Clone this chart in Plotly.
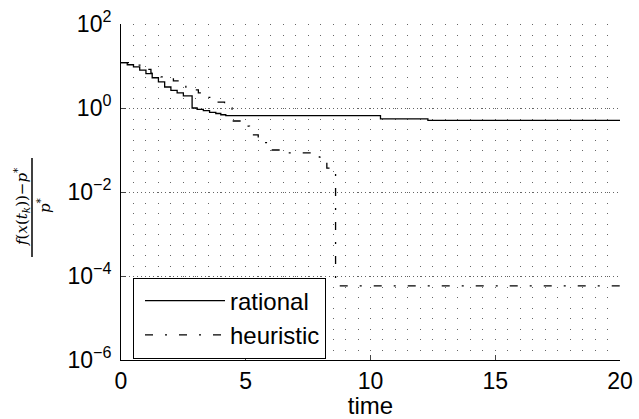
import plotly.graph_objects as go

# --- data ---
t_rational = [0, 0.25, 0.5, 0.75, 1.0, 1.25, 1.5, 1.75, 2.0, 2.25, 2.5, 2.85, 3.05, 3.3,
              3.55, 3.8, 4.0, 4.2, 10.4, 12.3, 20]
v_rational = [12.0, 10.7, 9.55, 7.94, 6.6, 5.25, 4.17, 3.16, 2.63, 2.29, 1.95, 1.0, 0.93, 0.87,
              0.79, 0.74, 0.69, 0.66, 0.55, 0.51, 0.51]

t_heuristic = [0, 0.4, 0.8, 1.2, 1.6, 2.1, 2.6, 3.1, 3.5, 3.85, 4.15, 4.45, 4.85, 5.15, 5.5,
               6.05, 6.5, 7.95, 8.25, 8.6, 20]
v_heuristic = [12.0, 10.5, 8.3, 6.8, 5.5, 4.4, 2.7, 2.3, 1.8, 1.38, 1.0, 0.49, 0.37, 0.23, 0.15,
               0.1, 0.085, 0.068, 0.037, 5.8e-5, 5.8e-5]

x_ticks = [0, 5, 10, 15, 20]
y_ticks = [1e-6, 1e-4, 1e-2, 1e0, 1e2]
y_ticktext = ["10<sup>−6</sup>", "10<sup>−4</sup>", "10<sup>−2</sup>", "10<sup>0</sup>", "10<sup>2</sup>"]

W, H = 639, 419
ml, mr, mt, mb = 121, 19, 24, 59
pw = W - ml - mr
ph = H - mt - mb

FONT = "Liberation Sans, Arial, Helvetica, sans-serif"
GRID = "#666"

fig = go.Figure()
fig.add_trace(go.Scatter(x=t_rational, y=v_rational, mode="lines", name="rational",
                         line=dict(color="black", width=1.3, shape="hv")))
fig.add_trace(go.Scatter(x=t_heuristic, y=v_heuristic, mode="lines", name="heuristic",
                         line=dict(color="black", width=1.3, shape="hv",
                                   dash="8px,12px,2px,12px")))

fig.update_layout(
    width=W, height=H,
    margin=dict(l=ml, r=mr, t=mt, b=mb, pad=0, autoexpand=False),
    paper_bgcolor="white", plot_bgcolor="white",
    font=dict(family=FONT, size=22, color="black"),
    showlegend=True,
    legend=dict(x=(133 - ml) / pw, y=(H - mb - 318) / ph, xanchor="left", yanchor="middle",
                bgcolor="white", bordercolor="black", borderwidth=1,
                font=dict(size=24, family=FONT), itemwidth=80, indentation=6,
                tracegroupgap=0),
    xaxis=dict(range=[0, 20], tickvals=x_ticks, ticks="inside", ticklen=5,
               showline=True, linecolor="black", linewidth=1,
               showgrid=True, gridcolor=GRID, gridwidth=1, griddash="1px,9.5px",
               zeroline=False, mirror=False, automargin=False,
               minor=dict(dtick=0.5, tick0=0, showgrid=True, gridcolor=GRID, gridwidth=1,
                          griddash="1px,9.5px", ticks=""),
               tickfont=dict(size=23),
               title=dict(text="time", font=dict(size=24), standoff=11)),
    yaxis=dict(type="log", range=[-6, 2], tickvals=y_ticks, ticktext=y_ticktext,
               ticks="inside", ticklen=5, showline=True, linecolor="black", linewidth=1,
               showgrid=True, gridcolor=GRID, gridwidth=1, automargin=False,
               griddash="1px,3px",
               zeroline=False, tickfont=dict(size=23), ticklabelstandoff=4),
)

# y-axis label as a fraction
SERIF = "DejaVu Serif, Liberation Serif, serif"
fig.add_annotation(xref="paper", yref="paper", x=-(ml - 21) / pw, y=(H - mb - 207) / ph,
                   xanchor="center", yanchor="middle",
                   text="<i>f</i>(<i>x</i>(<i>t<sub>k</sub></i>))−<i>p</i><sup>*</sup>",
                   textangle=-90, showarrow=False, font=dict(family=SERIF, size=15))
fig.add_annotation(xref="paper", yref="paper", x=-(ml - 44) / pw, y=(H - mb - 205) / ph,
                   xanchor="center", yanchor="middle",
                   text="<i>p</i><sup>*</sup>",
                   textangle=-90, showarrow=False, font=dict(family=SERIF, size=15))
fig.add_shape(type="line", xref="paper", yref="paper",
              x0=-(ml - 32) / pw, x1=-(ml - 32) / pw,
              y0=(H - mb - 158) / ph, y1=(H - mb - 257) / ph,
              line=dict(color="black", width=1.5))

fig.write_html("out.html", config={"displayModeBar": False},
               post_script="document.body.style.margin='0px';")
